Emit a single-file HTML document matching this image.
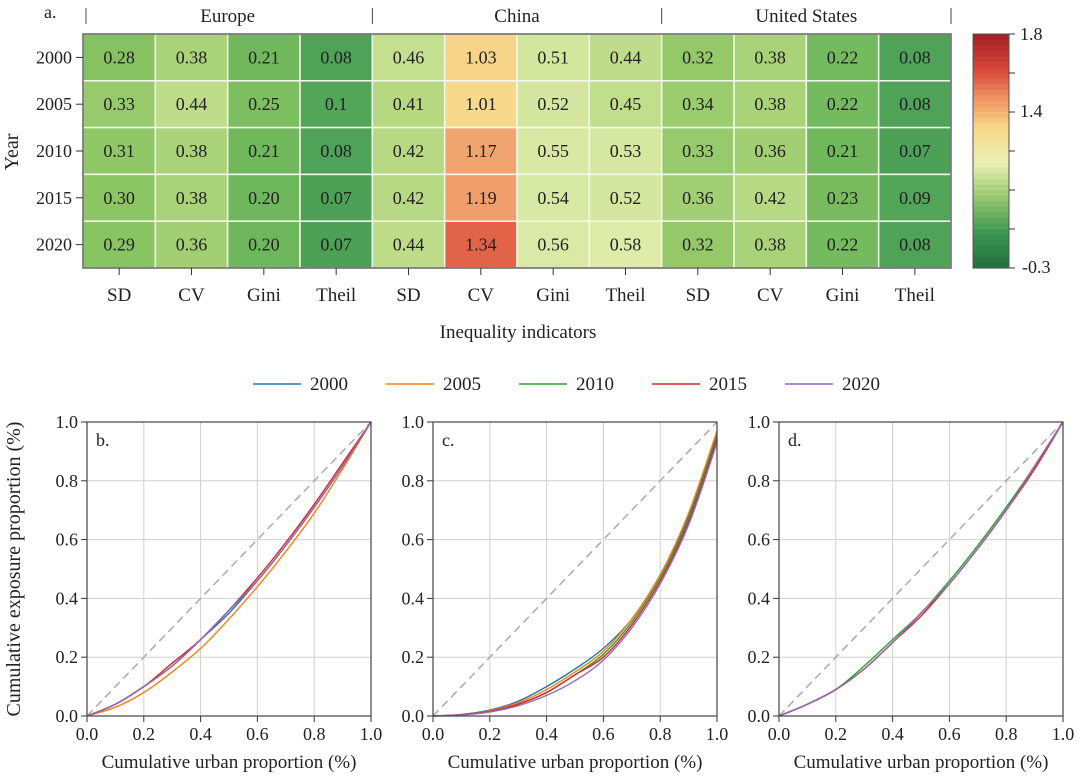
<!DOCTYPE html>
<html><head><meta charset="utf-8">
<style>
body{margin:0;background:#fff;}
svg{display:block;}
svg text{font-family:"Liberation Serif","Times New Roman","DejaVu Serif",serif;}
</style></head>
<body>
<svg id="chart" width="1080" height="778" viewBox="0 0 1080 778" font-family="Liberation Serif, serif"></svg>
<script>
const years=["2000","2005","2010","2015","2020"];
const indicators=["SD","CV","Gini","Theil","SD","CV","Gini","Theil","SD","CV","Gini","Theil"];
const regions=["Europe","China","United States"];
const heatValues=[
[0.28,0.38,0.21,0.08,0.46,1.03,0.51,0.44,0.32,0.38,0.22,0.08],
[0.33,0.44,0.25,0.1,0.41,1.01,0.52,0.45,0.34,0.38,0.22,0.08],
[0.31,0.38,0.21,0.08,0.42,1.17,0.55,0.53,0.33,0.36,0.21,0.07],
[0.30,0.38,0.20,0.07,0.42,1.19,0.54,0.52,0.36,0.42,0.23,0.09],
[0.29,0.36,0.20,0.07,0.44,1.34,0.56,0.58,0.32,0.38,0.22,0.08]];
const heatLabels=[
["0.28","0.38","0.21","0.08","0.46","1.03","0.51","0.44","0.32","0.38","0.22","0.08"],
["0.33","0.44","0.25","0.1","0.41","1.01","0.52","0.45","0.34","0.38","0.22","0.08"],
["0.31","0.38","0.21","0.08","0.42","1.17","0.55","0.53","0.33","0.36","0.21","0.07"],
["0.30","0.38","0.20","0.07","0.42","1.19","0.54","0.52","0.36","0.42","0.23","0.09"],
["0.29","0.36","0.20","0.07","0.44","1.34","0.56","0.58","0.32","0.38","0.22","0.08"]];
const cbTickLabels=["1.8","1.4","-0.3"];
const lorX=[0,0.1,0.2,0.3,0.4,0.5,0.6,0.7,0.8,0.9,1.0];
const eu2000=[0,0.04,0.10,0.17,0.26,0.35,0.46,0.58,0.71,0.85,1];
const eu2005=[0,0.03,0.08,0.15,0.23,0.33,0.44,0.56,0.69,0.84,1];
const eu2010=[0,0.04,0.10,0.17,0.26,0.36,0.46,0.58,0.71,0.85,1];
const eu2015=[0,0.04,0.10,0.18,0.26,0.36,0.47,0.59,0.72,0.86,1];
const eu2020=[0,0.04,0.10,0.17,0.26,0.36,0.46,0.58,0.71,0.85,1];
const cn2000=[0,0.005,0.02,0.05,0.10,0.16,0.23,0.33,0.48,0.68,0.96];
const cn2005=[0,0.004,0.018,0.045,0.09,0.15,0.22,0.33,0.48,0.69,0.97];
const cn2010=[0,0.004,0.016,0.04,0.08,0.14,0.21,0.32,0.47,0.67,0.95];
const cn2015=[0,0.004,0.016,0.04,0.08,0.14,0.20,0.31,0.46,0.66,0.94];
const cn2020=[0,0.003,0.014,0.035,0.07,0.12,0.19,0.30,0.45,0.65,0.93];
const us2000=[0,0.04,0.09,0.16,0.25,0.35,0.45,0.57,0.70,0.85,1];
const us2005=[0,0.04,0.09,0.16,0.25,0.35,0.45,0.57,0.70,0.85,1];
const us2010=[0,0.04,0.09,0.17,0.26,0.35,0.46,0.58,0.71,0.85,1];
const us2015=[0,0.04,0.09,0.16,0.25,0.34,0.45,0.57,0.70,0.84,1];
const us2020=[0,0.04,0.09,0.16,0.25,0.35,0.45,0.57,0.70,0.85,1];
const axisTicks=["0.0","0.2","0.4","0.6","0.8","1.0"];
const panels=[{id:"b",left:87,series:[eu2000,eu2005,eu2010,eu2015,eu2020]},
{id:"c",left:433,series:[cn2000,cn2005,cn2010,cn2015,cn2020]},
{id:"d",left:779,series:[us2000,us2005,us2010,us2015,us2020]}];
const colors=["#1f77b4","#ff7f0e","#2ca02c","#d62728","#9467bd"];

const svg=document.getElementById('chart');
const NS="http://www.w3.org/2000/svg";
function mk(tag,attrs,parent){const e=document.createElementNS(NS,tag);for(const k in attrs)e.setAttribute(k,attrs[k]);(parent||svg).appendChild(e);return e;}
function txt(s,attrs,parent){const e=mk('text',attrs,parent);e.textContent=s;return e;}

const stops=[[0.0,[60,150,80]],[0.08,[78,163,88]],[0.2,[110,183,92]],[0.3,[140,197,100]],[0.4,[178,214,126]],[0.5,[208,229,156]],[0.6,[226,236,172]],[0.8,[240,232,160]],[1.02,[247,216,138]],[1.18,[240,162,110]],[1.34,[226,100,72]],[1.8,[165,30,35]]];
function color(v){if(v<=stops[0][0])return `rgb(${stops[0][1]})`;for(let i=1;i<stops.length;i++){if(v<=stops[i][0]){const a=stops[i-1],b=stops[i];const t=(v-a[0])/(b[0]-a[0]);const c=a[1].map((x,j)=>Math.round(x+(b[1][j]-x)*t));return `rgb(${c})`;}}return `rgb(${stops[stops.length-1][1]})`;}
const cbStops=[[0,[35,110,60]],[0.15,[60,150,80]],[0.3,[150,200,110]],[0.45,[235,240,180]],[0.6,[248,215,135]],[0.72,[240,150,100]],[0.85,[215,70,55]],[1,[160,30,35]]];
function cbColor(t){for(let i=1;i<cbStops.length;i++){if(t<=cbStops[i][0]){const a=cbStops[i-1],b=cbStops[i];const u=(t-a[0])/(b[0]-a[0]);const c=a[1].map((x,j)=>Math.round(x+(b[1][j]-x)*u));return `rgb(${c})`;}}return `rgb(${cbStops[cbStops.length-1][1]})`;}

const hx0=83,hx1=951,hy0=34,hy1=268;
const cw=(hx1-hx0)/12,rh=(hy1-hy0)/5;
const cx=i=>hx0+i*cw, ry=j=>hy0+j*rh;
const hm=mk('g',{});


for(let j=0;j<5;j++)for(let i=0;i<12;i++){
 const r=mk('rect',{x:cx(i),y:ry(j),width:cw,height:rh,fill:color(heatValues[j][i]),stroke:"#f4f8ee","stroke-width":1.5},hm);
 
 
 const t=txt(heatLabels[j][i],{x:cx(i)+cw/2,y:ry(j)+rh/2+6,"text-anchor":"middle","font-size":18,fill:"#222"},hm);
 
 
}
mk('rect',{x:hx0,y:hy0,width:hx1-hx0,height:hy1-hy0,fill:"none",stroke:"#666","stroke-width":1.5},hm);
for(let j=0;j<5;j++){
 mk('line',{x1:hx0-7,x2:hx0,y1:ry(j)+rh/2,y2:ry(j)+rh/2,stroke:"#333"});
 const t=txt(years[j],{x:hx0-11,y:ry(j)+rh/2+6,"text-anchor":"end","font-size":18,fill:"#222"});
 
 
}
for(let i=0;i<12;i++){
 mk('line',{x1:cx(i)+cw/2,x2:cx(i)+cw/2,y1:hy1,y2:hy1+7,stroke:"#333"});
 const t=txt(indicators[i],{x:cx(i)+cw/2,y:301,"text-anchor":"middle","font-size":19,fill:"#222"});
 
 
}
for(let g=0;g<=3;g++){const x=hx0+g*4*cw+(g==0?3:0);mk('line',{x1:x,x2:x,y1:8,y2:24,stroke:"#444"});}
regions.forEach((r,g)=>{const t=txt(r,{x:hx0+(g*4+2)*cw,y:22,"text-anchor":"middle","font-size":19,fill:"#222"});
 });
txt("a.",{x:44,y:18,"font-size":18,fill:"#222"});
txt("Year",{x:0,y:0,transform:"translate(18,152) rotate(-90)","text-anchor":"middle","font-size":20,fill:"#222"});
txt("Inequality indicators",{x:518,y:338,"text-anchor":"middle","font-size":19,fill:"#222"});

const cb=mk('g',{});


const cbx=973,cbw=36,n=42;
for(let k=0;k<n;k++){const t=1-(k+0.5)/n;mk('rect',{x:cbx,y:hy0+k*(hy1-hy0)/n,width:cbw,height:(hy1-hy0)/n+0.6,fill:cbColor(t)},cb);}
mk('rect',{x:cbx,y:hy0,width:cbw,height:hy1-hy0,fill:"none",stroke:"#555"},cb);
for(let k=0;k<=6;k++){const y=hy0+k*(hy1-hy0)/6;mk('line',{x1:cbx+cbw,x2:cbx+cbw+6,y1:y,y2:y,stroke:"#333"},cb);}
txt(cbTickLabels[0],{x:1020,y:40,"font-size":18,fill:"#222"},cb);
txt(cbTickLabels[1],{x:1020,y:117,"font-size":18,fill:"#222"},cb);
txt(cbTickLabels[2],{x:1022,y:273,"font-size":18,fill:"#222"},cb);

const lg=mk('g',{});


years.forEach((y,i)=>{const x0=253+i*133;mk('line',{x1:x0,x2:x0+48,y1:384,y2:384,stroke:colors[i],"stroke-width":1.5},lg);
 const t=txt(y,{x:x0+57,y:390,"font-size":19,fill:"#222"},lg);});

function smooth(pts){let d='M'+pts[0][0].toFixed(1)+','+pts[0][1].toFixed(1);
 for(let i=0;i<pts.length-1;i++){const p0=pts[Math.max(0,i-1)],p1=pts[i],p2=pts[i+1],p3=pts[Math.min(pts.length-1,i+2)];
  const c1=[p1[0]+(p2[0]-p0[0])/6,p1[1]+(p2[1]-p0[1])/6],c2=[p2[0]-(p3[0]-p1[0])/6,p2[1]-(p3[1]-p1[1])/6];
  d+='C'+c1.map(v=>v.toFixed(1)).join(',')+' '+c2.map(v=>v.toFixed(1)).join(',')+' '+p2[0].toFixed(1)+','+p2[1].toFixed(1);}
 return d;}

const pw=284,py0=422,py1=716;
panels.forEach(p=>{
 const g=mk('g',{});
 
 
 const X=v=>p.left+v*pw, Y=v=>py1-v*(py1-py0);
 for(let k=0;k<=5;k++){const v=k/5;
  mk('line',{x1:X(v),x2:X(v),y1:py0,y2:py1,stroke:"#d0d0d0"},g);
  mk('line',{x1:p.left,x2:p.left+pw,y1:Y(v),y2:Y(v),stroke:"#d0d0d0"},g);
  mk('line',{x1:X(v),x2:X(v),y1:py1,y2:py1+6,stroke:"#333"},g);
  mk('line',{x1:p.left-6,x2:p.left,y1:Y(v),y2:Y(v),stroke:"#333"},g);
  txt(axisTicks[k],{x:X(v),y:py1+24,"text-anchor":"middle","font-size":18,fill:"#222"},g);
  txt(axisTicks[k],{x:p.left-9,y:Y(v)+6,"text-anchor":"end","font-size":18,fill:"#222"},g);
 }
 mk('line',{x1:X(0),y1:Y(0),x2:X(1),y2:Y(1),stroke:"#aaa","stroke-width":1.5,"stroke-dasharray":"8,5"},g);
 p.series.forEach((s,i)=>{
  const pts=s.map((v,k)=>[X(lorX[k]),Y(v)]);
  const path=mk('path',{d:smooth(pts),fill:"none",stroke:colors[i],"stroke-width":1.4},g);
  
  
 });
 mk('rect',{x:p.left,y:py0,width:pw,height:py1-py0,fill:"none",stroke:"#444","stroke-width":1.2},g);
 txt(p.id+".",{x:p.left+9,y:py0+24,"font-size":18,fill:"#222"},g);
 const xl=txt("Cumulative urban proportion (%)",{x:p.left+pw/2,y:768,"text-anchor":"middle","font-size":19,fill:"#222"},g);
 
 
});
txt("Cumulative exposure proportion (%)",{x:0,y:0,transform:"translate(20,569) rotate(-90)","text-anchor":"middle","font-size":20,fill:"#222"});
</script>
</body></html>
